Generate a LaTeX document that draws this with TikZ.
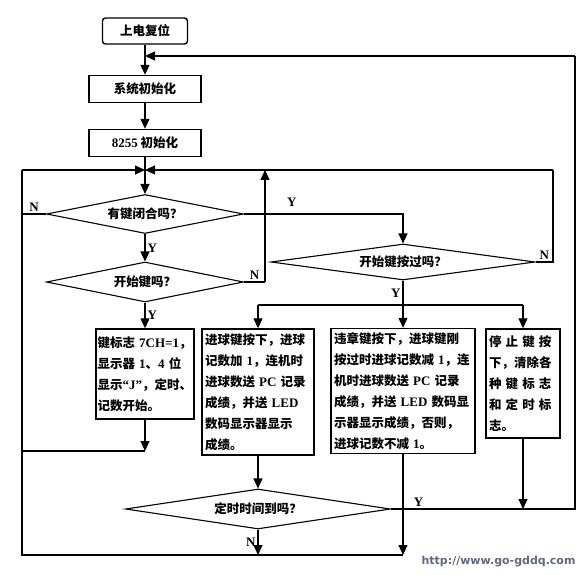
\documentclass[tikz,border=0pt]{standalone}
\usepackage{fontspec}
\usepackage{xcolor}
\usepackage{tikz}
\usetikzlibrary{shapes.geometric,arrows.meta}
\setmainfont{Noto Sans CJK SC}
\newfontfamily\ynfont{Liberation Serif}
\newfontfamily\webfont{DejaVu Sans}
\newcommand{\lat}[1]{{\ynfont\fontsize{13}{21}\selectfont #1}}
\definecolor{webgray}{RGB}{95,105,125}

\begin{document}
\begin{tikzpicture}[x=1pt, y=-1pt, >={Triangle[length=10pt,width=9pt]},
  every node/.style={font=\fontsize{12.5}{21}\selectfont\bfseries},
  title/.style={rectangle, draw, line width=1.4pt, minimum height=27pt, align=center},
  block/.style={rectangle, draw, line width=1.4pt, inner sep=3pt, align=left},
  decision/.style={diamond, draw, line width=1.1pt, aspect=5, inner sep=0pt},
  yn/.style={font=\ynfont\bfseries\fontsize{13}{13}\selectfont, inner sep=2pt},
  link/.style={line width=1.2pt}]

\useasboundingbox (0,0) rectangle (582,575);

\node[title, rounded corners=3pt, minimum width=85pt, minimum height=26pt] (reset) at (145,31) {上电复位};
\node[title, minimum width=112pt] (sysinit) at (145,89) {系统初始化};
\node[title, minimum width=112pt] (pioinit) at (145,143) {\lat{8255} 初始化};
\coordinate (merge) at (145,170);

\node[decision, minimum width=197pt, minimum height=39pt] (anykey) at (145,214) {有键闭合吗？};
\node[decision, minimum width=197pt, minimum height=40pt] (startkey) at (145,282) {开始键吗？};
\node[decision, minimum width=264pt, minimum height=36pt] (started) at (403,262) {开始键按过吗？};

\node[block, inner xsep=1.5pt, text width=95pt, minimum height=90pt] (flagbox) at (145,374) {\mbox{键标志 \lat{7CH=1}，}\\
显示器 \lat{1}、\lat{4} 位\\
显示\lat{“J”}，定时、\\
记数开始。};
\node[block, text width=106pt, minimum height=126pt] (goalbox) at (258,392) {进球键按下，进球\\
记数加 \lat{1}，连机时\\
进球数送 \lat{PC} 记录\\
成绩，并送 \lat{LED}\\
数码显示器显示\\
成绩。};
\node[block, text width=138pt, minimum height=125pt] (foulbox) at (403,391) {违章键按下，进球键刚\\
按过时进球记数减 \lat{1}，连\\
机时进球数送 \lat{PC} 记录\\
成绩，并送 \lat{LED} 数码显\\
示器显示成绩，否则，\\
进球记数不减 \lat{1}。};
\node[block, text width=68pt, minimum height=109pt] (stopbox) at (523,383.5) {停 止 键 按\\
下，清除各\\
种 键 标 志\\
和 定 时 标\\
志。};

\node[decision, minimum width=265pt, minimum height=40pt] (timeup) at (258,509) {定时时间到吗？};

\coordinate (botL) at (22,555);
\coordinate (topR) at (575,56);
\coordinate (loopR) at (553,170);
\coordinate (upline) at (265,170);
\coordinate (split) at (403,305);
\coordinate (flagout) at (145,451);

\draw[link,->] (reset) -- (sysinit);
\draw[link,->] (sysinit) -- (pioinit);
\draw[link,->] (pioinit) -- (anykey);
\draw[link,->] (anykey) -- node[yn, right] {Y} (startkey);
\draw[link,->] (startkey) -- node[yn, right] {Y} (flagbox);

\draw[link] (anykey.west) -- node[yn, above] {N} (anykey.west -| botL);
\draw[link,->] (anykey.east) -| node[yn, above, pos=0.15, yshift=5pt] {Y} (started.north);
\draw[link] (startkey.east) -- node[yn, above] {N} (startkey.east -| upline);
\draw[link,->] (startkey.east -| upline) -- (upline);
\draw[link] (started.east) -- node[yn, above] {N} (started.east -| loopR) -- (loopR);
\draw[link,->] (loopR) -- (merge);

\draw[link] (started.south) -- node[yn, left] {Y} (split);
\draw[link] (goalbox.north |- split) -- (stopbox.north |- split);
\draw[link,->] (goalbox.north |- split) -- (goalbox.north);
\draw[link,->] (split) -- (foulbox.north);
\draw[link,->] (stopbox.north |- split) -- (stopbox.north);

\draw[link,->] (flagbox) -- (flagout);
\draw[link] (flagout) -- (flagout -| botL);
\draw[link,->] (goalbox) -- (timeup);
\draw[link,->] (stopbox) -- (stopbox.south |- timeup.east);
\draw[link,->] (foulbox.south) -- (foulbox.south |- botL);
\draw[link,->] (timeup.south) -- node[yn, left] {N} (timeup.south |- botL);
\draw[link] (foulbox.south |- botL) -- (botL) -- (botL |- merge);
\draw[link,->] (botL |- merge) -- (merge);

\draw[link] (timeup.east) -- node[yn, above, pos=0.15] {Y} (timeup.east -| topR) -- (topR);
\draw[link,->] (topR) -- (topR -| reset.south);

\node[font=\webfont\bfseries\fontsize{11}{12}\selectfont, text=webgray, anchor=east] (url) at (579,562) {http://www.go-gddq.com};
\end{tikzpicture}
\end{document}
